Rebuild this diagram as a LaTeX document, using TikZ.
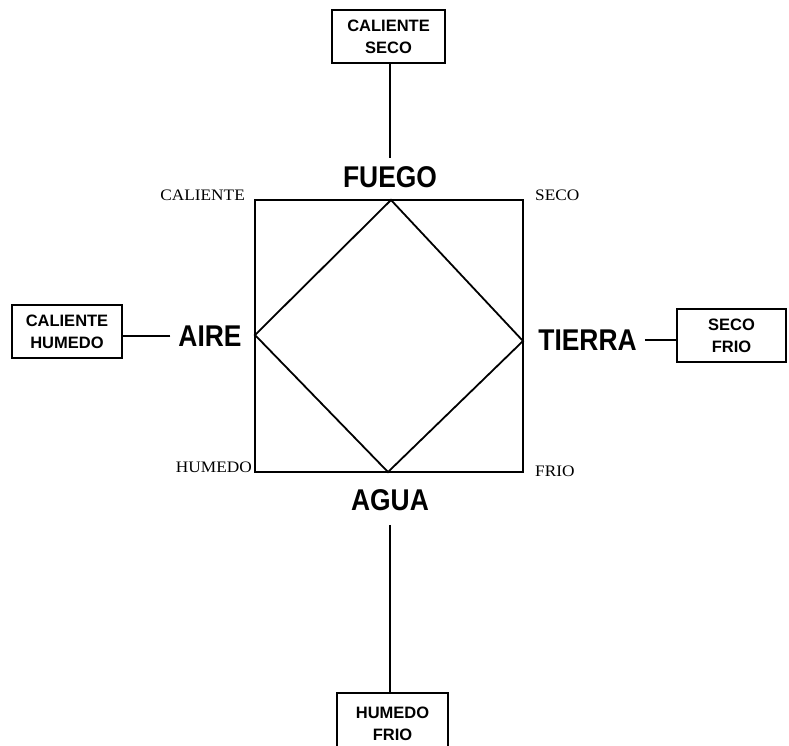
\documentclass[tikz,border=0pt]{standalone}
\usepackage{graphicx}
\usepackage{fontspec}
\setmainfont{Liberation Serif}
\newfontfamily\hsans{Liberation Sans}
\begin{document}
\begin{tikzpicture}[x=1pt,y=-1pt,
  big/.style={font=\hsans\bfseries\fontsize{30}{30}\selectfont, text height=21.5pt, text depth=0pt, inner sep=8pt},
  labbox/.style={draw, line width=1.7pt, font=\hsans\bfseries\fontsize{16.5}{22}\selectfont, align=center, minimum width=110pt, minimum height=53pt, inner sep=0pt},
  corner/.style={font=\fontsize{16}{16}\selectfont, inner sep=0pt},
  ln/.style={line width=1.8pt}]
\useasboundingbox (0,0) rectangle (789,745);
\clip (0,0) rectangle (789,745);

% square and diamond corners
\coordinate (nw) at (255,200);
\coordinate (ne) at (523,200);
\coordinate (se) at (523,472);
\coordinate (sw) at (255,472);
\coordinate (dt) at (391,200);
\coordinate (dr) at (523,341);
\coordinate (db) at (388,472);
\coordinate (dl) at (255,335);

\draw[ln] (nw) -- (ne) -- (se) -- (sw) -- cycle;
\draw[ln] (dt) -- (dr) -- (db) -- (dl) -- cycle;

% element labels
\node[big] (fuego) at (390,177) {\scalebox{0.88}[1]{FUEGO}};
\node[big] (aire) at (210,336) {\scalebox{0.88}[1]{AIRE}};
\node[big] (tierra) at (587.5,340) {\scalebox{0.88}[1]{TIERRA}};
\node[big, inner ysep=14pt] (agua) at (390,500) {\scalebox{0.88}[1]{AGUA}};

% quality boxes
\node[labbox, minimum width=113pt] (topbox) at (388.5,36.5) {CALIENTE\\SECO};
\node[labbox] (leftbox) at (67,331.5) {CALIENTE\\HUMEDO};
\node[labbox, minimum width=109pt] (rightbox) at (731.5,335.5) {SECO\\FRIO};
\node[labbox, minimum width=111pt, minimum height=62pt] (botbox) at (392.5,724) {HUMEDO\\FRIO};

% connectors
\draw[ln] (topbox.south -| fuego.north) -- (fuego.north);
\draw[ln] (aire.west) -- (aire.west -| leftbox.east);
\draw[ln] (tierra.east) -- (tierra.east -| rightbox.west);
\draw[ln] (agua.south) -- (agua.south |- botbox.north);

% corner labels
\node[corner, anchor=base east] (lcal) at (245,200) {\scalebox{1.08}[1]{CALIENTE}};
\node[corner, anchor=base west] (lsec) at (535,200) {\scalebox{1.08}[1]{SECO}};
\node[corner, anchor=base east] (lhum) at (252,472) {\scalebox{1.08}[1]{HUMEDO}};
\node[corner, anchor=base west] (lfri) at (535,476) {\scalebox{1.08}[1]{FRIO}};
\end{tikzpicture}
\end{document}
